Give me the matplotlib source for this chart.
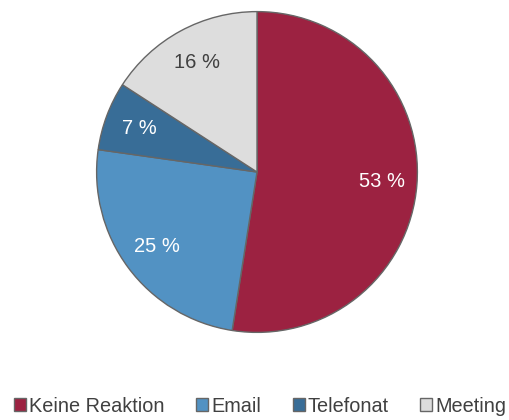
import matplotlib
matplotlib.use('Agg')
import matplotlib.pyplot as plt

# Data
categories = ['Keine Reaktion', 'Email', 'Telefonat', 'Meeting']
shares = [53, 25, 7, 16]
colors = ['#9c2241', '#5292c3', '#386d97', '#dddddd']
label_colors = ['white', 'white', 'white', '#404040']

plt.rcParams['font.family'] = ['Liberation Sans', 'DejaVu Sans']

fig = plt.figure(figsize=(5.1, 4.2), dpi=100)
ax = fig.add_axes([95/510, 86/420, 324/510, 324/420])

pct_labels = ['{} %'.format(v) for v in shares]
wedges, texts = ax.pie(
    shares, colors=colors, startangle=90, counterclock=False,
    labels=pct_labels, labeldistance=0.78,
    wedgeprops={'edgecolor': '#666666', 'linewidth': 1.0},
    textprops={'fontsize': 14.5, 'ha': 'center', 'va': 'center'})
for t, c in zip(texts, label_colors):
    t.set_color(c)
    t.set_horizontalalignment('center')
ax.set_xlim(-1.01, 1.01)
ax.set_ylim(-1.01, 1.01)
ax.set_aspect('equal')

leg = fig.legend(wedges, categories, loc='center', bbox_to_anchor=(0.51, 14/420),
                 ncol=4, frameon=False, fontsize=14.3,
                 handlelength=0.6, handleheight=0.6, handletextpad=0.15,
                 columnspacing=1.6, borderaxespad=0)
for t in leg.get_texts():
    t.set_color('#404040')

plt.savefig('out.png', dpi=100, facecolor='w')
